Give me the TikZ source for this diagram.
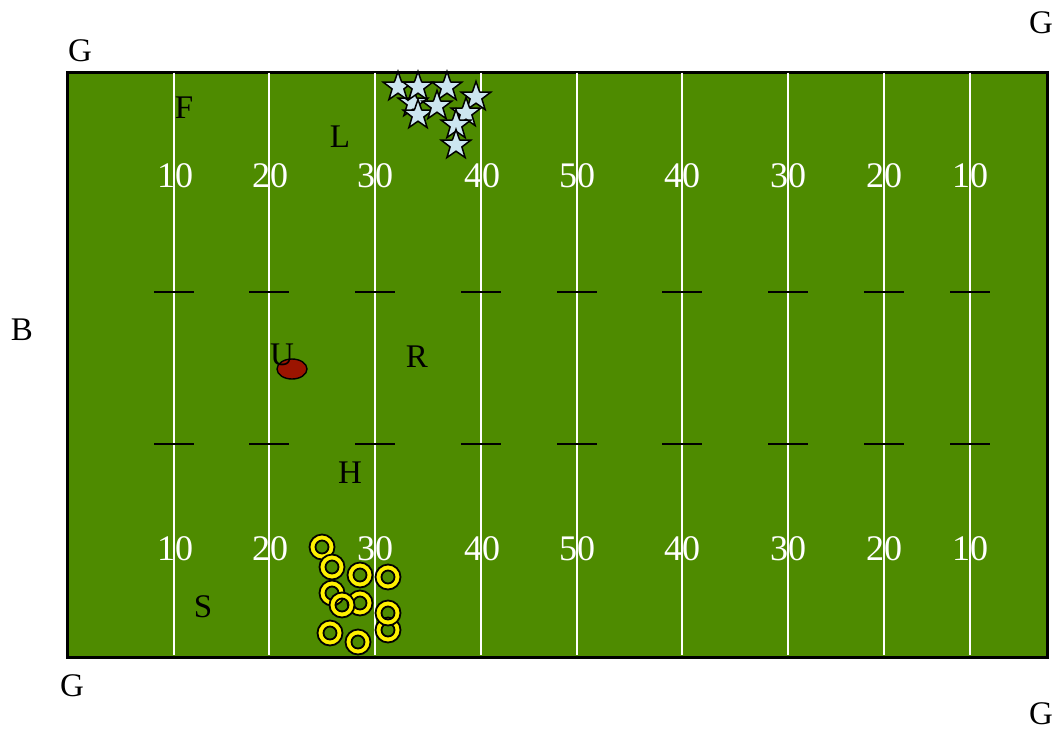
\documentclass[tikz,border=0pt]{standalone}
\usepackage{fontspec}
\setmainfont{Liberation Serif}
\usetikzlibrary{shapes.geometric}
\definecolor{turf}{RGB}{78,139,0}
\definecolor{starblue}{RGB}{204,230,240}
\definecolor{ballred}{RGB}{155,20,0}
\definecolor{ringyellow}{RGB}{255,240,0}
\tikzset{
  yard/.style={draw=white,line width=1.6pt},
  hashmark/.style={draw=black,line width=1.4pt},
  num/.style={text=white,font=\fontsize{36}{36}\selectfont,inner sep=0pt},
  lbl/.style={text=black,font=\fontsize{33}{33}\selectfont,inner sep=0pt},
  player/.style={star,star points=5,star point ratio=2.5,minimum size=31pt,inner sep=0pt,draw=black,line width=1.5pt,fill=starblue},
}
\newcommand{\ringat}[2]{%
  \fill[ringyellow,even odd rule,draw=black,line width=1.8pt] (#1,#2) circle[radius=12.5] (#1,#2) circle[radius=6.5];}
\begin{document}
\begin{tikzpicture}[x=1pt,y=-1pt]
\useasboundingbox (0,0) rectangle (1060,732);
% field
\node[draw=black,line width=3pt,fill=turf,minimum width=980pt,minimum height=585pt,inner sep=0pt,anchor=north west] (field) at (66,71) {};
% yard lines
\foreach \x [count=\i] in {174,269,375,481,577,682,788,884,970}{
  \draw[yard] (\x,72.5) coordinate (yt\i) -- (\x,654.5) coordinate (yb\i);
  \draw[hashmark] (\x-20,292) coordinate (ha\i) -- (\x+20,292) coordinate (hb\i);
  \draw[hashmark] (\x-20,444) coordinate (hc\i) -- (\x+20,444) coordinate (hd\i);
}
% numbers
\foreach \x/\t [count=\i] in {175/10,270/20,375/30,482/40,577/50,682/40,788/30,884/20,970/10}{
  \node[num] (nt\i) at (\x,176) {\t};
  \node[num] (nb\i) at (\x,549) {\t};
}
% labels
\node[lbl] (g1) at (80,51) {G};
\node[lbl] (g2) at (1041,23) {G};
\node[lbl] (g3) at (72,686) {G};
\node[lbl] (g4) at (1041,714) {G};
\node[lbl] (b) at (22,330) {B};
\node[lbl] (f) at (184,108) {F};
\node[lbl] (l) at (340,137) {L};
\node[lbl] (r) at (417,357) {R};
\node[lbl] (h) at (350,473) {H};
\node[lbl] (s) at (203,607) {S};
% ball
\node[ellipse,draw=black,line width=1.4pt,fill=ballred,minimum width=30pt,minimum height=20pt,inner sep=0pt] (ball) at (292,369) {};
\node[lbl] (u) at (282,355) {U};
% stars
\foreach \x/\y [count=\i] in {413/103,398/87,418/87,447/87,476/97,418/115,437/106,466/113,456/125,456/145}{
  \node[player] (st\i) at (\x,\y) {};
}
% rings
\ringat{322}{547}
\ringat{332}{567}
\ringat{360}{575}
\ringat{388}{577}
\ringat{332}{593}
\ringat{360}{603}
\ringat{342}{605}
\ringat{388}{630}
\ringat{388}{613}
\ringat{330}{633}
\ringat{358}{642}
\end{tikzpicture}
\end{document}
